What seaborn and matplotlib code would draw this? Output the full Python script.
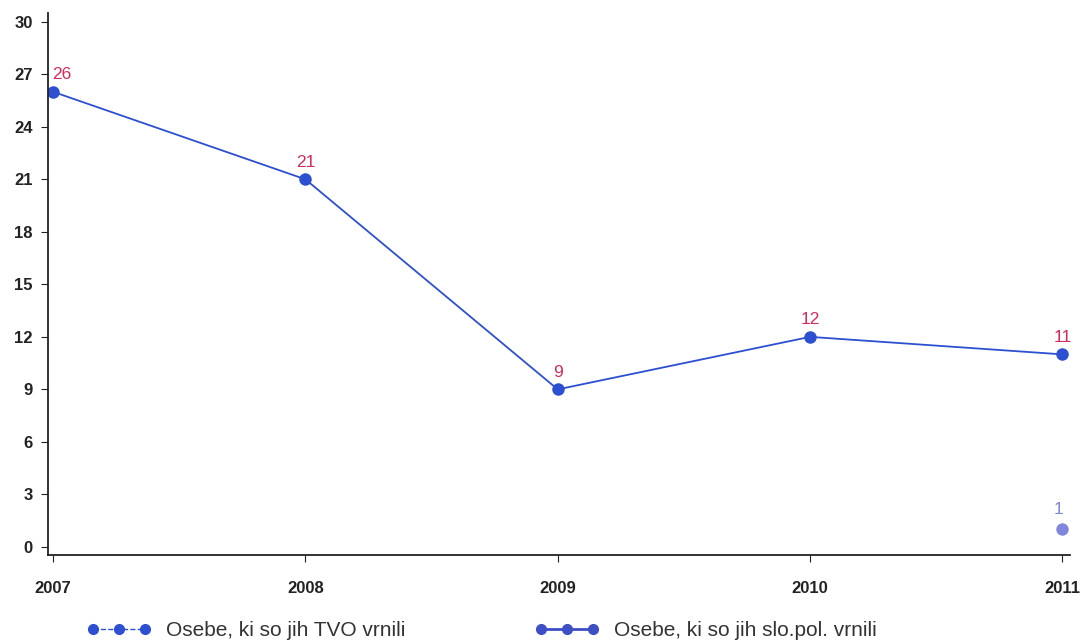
import numpy as np
import pandas as pd
import matplotlib
matplotlib.use("Agg")
import matplotlib.pyplot as plt
import seaborn as sns
from matplotlib.lines import Line2D

years = [2007, 2008, 2009, 2010, 2011]
slo_pol = [26, 21, 9, 12, 11]
tvo_years = [2011]
tvo = [1]
y_ticks = list(range(0, 31, 3))

label_slo = "Osebe, ki so jih slo.pol. vrnili"
label_tvo = "Osebe, ki so jih TVO vrnili"

sns.set_style("ticks")
plt.rcParams['font.family'] = ['Liberation Sans', 'DejaVu Sans']

c_main = "#2d4fd2"
c_tvo = "#7f86db"
c_lab = "#d42a5c"

fig = plt.figure(figsize=(10.85, 6.43), dpi=100)
ax = fig.add_axes([48 / 1085, 1 - 555 / 643, (1070 - 48) / 1085, (555 - 13) / 643])

df = pd.DataFrame({"year": years, "value": slo_pol})
sns.lineplot(data=df, x="year", y="value", ax=ax, color=c_main, lw=1.3,
             marker="o", markersize=9, markeredgewidth=0)
df_tvo = pd.DataFrame({"year": tvo_years, "value": tvo})
sns.scatterplot(data=df_tvo, x="year", y="value", ax=ax, color=c_tvo, s=80, linewidth=0)

for i, (x, y) in enumerate(zip(years, slo_pol)):
    dx = 6 if i == 0 else 0
    ax.annotate(str(y), (x, y), xytext=(dx, 7), textcoords="offset points",
                ha="center", va="bottom", color=c_lab, fontsize=12.5)
for x, y in zip(tvo_years, tvo):
    ax.annotate(str(y), (x, y), xytext=(-3, 9), textcoords="offset points",
                ha="center", va="bottom", color=c_tvo, fontsize=12.5)

ax.set_xlim(2006.98, 2011.03)
ax.set_ylim(-0.46, 30.5)
ax.set_xticks(years)
ax.set_yticks(y_ticks)
ax.tick_params(labelsize=12, length=5, colors="#222222")
ax.tick_params(axis="x", pad=14)
ax.tick_params(axis="y", pad=6)
for lab in ax.get_xticklabels() + ax.get_yticklabels():
    lab.set_fontweight("bold")
ax.set_xlabel("")
ax.set_ylabel("")
for s in ["top", "right"]:
    ax.spines[s].set_visible(False)
for s in ["left", "bottom"]:
    ax.spines[s].set_color("#222222")
    ax.spines[s].set_linewidth(1.3)

handles = [
    Line2D([], [], color=c_main, lw=1, ls="--", marker="o", markersize=7),
    Line2D([], [], color="#3d4fc4", lw=2, marker="o", markersize=7),
]
fig.legend(handles, [label_tvo, label_slo], loc="lower left", bbox_to_anchor=(68 / 1085, -0.025),
           ncol=2, frameon=False, fontsize=15, numpoints=3, handlelength=3.1,
           columnspacing=6.2, handletextpad=0.7, labelcolor="#333333")

fig.savefig("out.png", dpi=100)
